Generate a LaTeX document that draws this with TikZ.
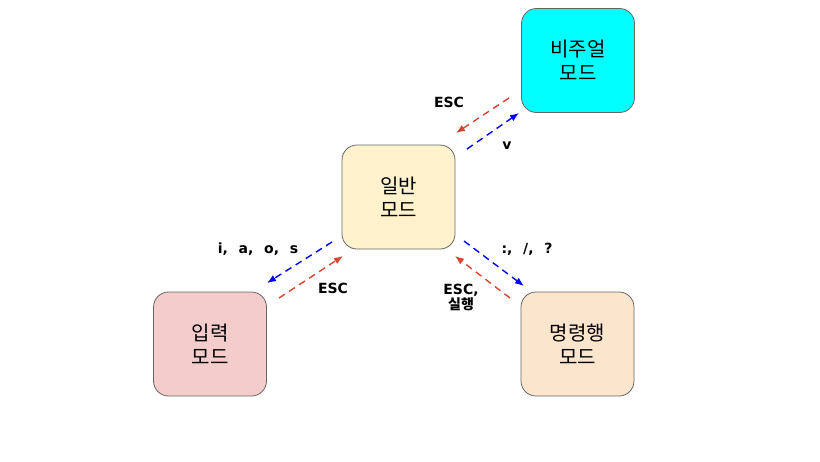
\documentclass[tikz,border=0pt]{standalone}
\usepackage{fontspec}
\setmainfont{Noto Sans CJK KR}
\newfontfamily\lblfont[WordSpace=2.2]{DejaVu Sans}
\usetikzlibrary{arrows.meta}
\definecolor{escred}{HTML}{D6452F}
\definecolor{normfill}{HTML}{FFF2CC}
\definecolor{visfill}{HTML}{00FFFF}
\definecolor{infill}{HTML}{F4CCCC}
\definecolor{cmdfill}{HTML}{FCE5CD}
\definecolor{boxline}{HTML}{666666}
\tikzset{
  modebox/.style={draw=boxline, line width=0.8pt, rounded corners=15pt, minimum width=113pt, minimum height=104pt, align=center, font=\fontsize{20}{24}\selectfont, inner sep=0pt},
  blueedge/.style={draw=blue, line width=1.4pt, dash pattern=on 7pt off 5pt, -{Latex[length=9pt,width=7pt]}},
  rededge/.style={draw=escred, line width=1.4pt, dash pattern=on 7pt off 5pt, -{Latex[length=9pt,width=7pt]}},
  lbl/.style={font=\lblfont\bfseries\fontsize{14}{16}\selectfont, align=center, inner sep=0pt}
}
\begin{document}
\begin{tikzpicture}[x=1pt,y=-1pt]
\useasboundingbox (0,0) rectangle (820,461);
\node[modebox, fill=normfill] (norm) at (398.5,197) {일반\\모드};
\node[modebox, fill=visfill] (vis) at (578,60.5) {비주얼\\모드};
\node[modebox, fill=infill] (inp) at (210,344) {입력\\모드};
\node[modebox, fill=cmdfill] (cmd) at (577.5,344) {명령행\\모드};

\coordinate (vA) at (509,98);  \coordinate (vB) at (456,133);
\coordinate (vC) at (467,149); \coordinate (vD) at (519,113);
\coordinate (iA) at (332,242); \coordinate (iB) at (267,283);
\coordinate (iC) at (279,298); \coordinate (iD) at (343,256);
\coordinate (cA) at (464,241); \coordinate (cB) at (524,286);
\coordinate (cC) at (510,298); \coordinate (cD) at (455,256);

\draw[rededge] (vA) -- (vB);
\draw[blueedge] (vC) -- (vD);
\draw[blueedge] (iA) -- (iB);
\draw[rededge] (iC) -- (iD);
\draw[blueedge] (cA) -- (cB);
\draw[rededge] (cC) -- (cD);

\node[lbl] (l1) at (449,102) {ESC};
\node[lbl] (l2) at (507,146) {v};
\node[lbl] (l3) at (258,249) {i, a, o, s};
\node[lbl] (l4) at (333,288) {ESC};
\node[lbl] (l5) at (527,249) {:, /, ?};
\node[lbl] (l6) at (461,297) {ESC,\\[-1pt]{\rmfamily\bfseries\fontsize{14}{15}\selectfont 실행}};
\end{tikzpicture}
\end{document}
